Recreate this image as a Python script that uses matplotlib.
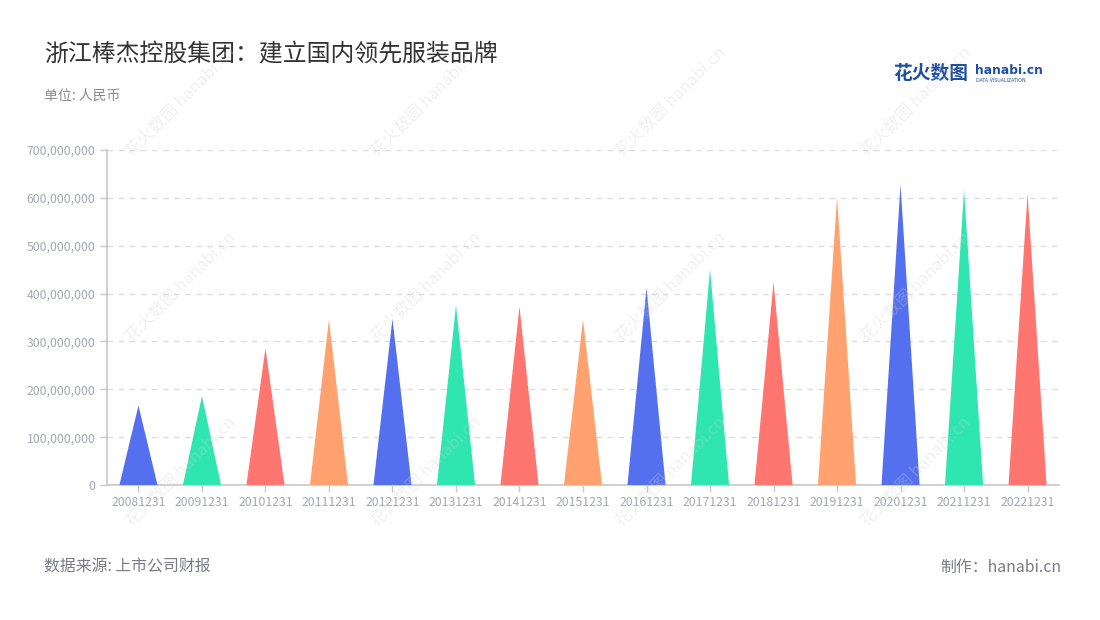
import matplotlib
matplotlib.use("Agg")
import matplotlib.pyplot as plt
from matplotlib.ticker import FuncFormatter, MultipleLocator

plt.rcParams['font.family'] = ['Noto Sans CJK SC', 'DejaVu Sans']

# data (RMB)
periods = ["20081231", "20091231", "20101231", "20111231", "20121231",
           "20131231", "20141231", "20151231", "20161231", "20171231",
           "20181231", "20191231", "20201231", "20211231", "20221231"]
values = [166e6, 186e6, 286e6, 346e6, 347e6,
          376e6, 373e6, 346e6, 412e6, 450e6,
          424e6, 602e6, 628e6, 616e6, 609e6]
palette = ["#5470ee", "#2fe6b1", "#ff7570", "#ffa26f"]

title = "浙江棒杰控股集团：建立国内领先服装品牌"
unit = "单位: 人民币"
source = "数据来源: 上市公司财报"
credit = "制作：hanabi.cn"

fig = plt.figure(figsize=(11, 6.2), dpi=100)
ax = fig.add_axes([0.097, 0.2177, 0.866, 0.5403])

half = 0.3
for i, v in enumerate(values):
    ax.fill([i - half, i, i + half], [0, v, 0],
            color=palette[i % len(palette)], lw=0, zorder=3)

ax.set_xlim(-0.5, len(periods) - 0.5)
ax.set_ylim(0, 700e6)
ax.set_xticks(range(len(periods)))
ax.set_xticklabels(periods)
ax.yaxis.set_major_locator(MultipleLocator(100e6))
ax.yaxis.set_major_formatter(FuncFormatter(lambda v, p: f"{int(v):,}"))

ax.grid(axis='y', color='#dddddd', linestyle=(0, (4, 4)), lw=1, zorder=0)
for s in ['top', 'right']:
    ax.spines[s].set_visible(False)
for s in ['left', 'bottom']:
    ax.spines[s].set_color('#c8c8c8')
    ax.spines[s].set_linewidth(1.2)
ax.tick_params(axis='both', colors='#c8c8c8', length=5, width=1,
               labelcolor='#a4a7b2', labelsize=8.8, pad=3)

# header / footer
fig.text(44 / 1100, 1 - 55 / 620, title, fontsize=17.2, color='#333333',
         ha='left', va='center')
fig.text(44 / 1100, 1 - 96 / 620, unit, fontsize=10, color='#8a8a96',
         ha='left', va='center')
fig.text(44 / 1100, 1 - 567 / 620, source, fontsize=11.4, color='#7a7a88',
         ha='left', va='center')
fig.text(1061 / 1100, 1 - 567 / 620, credit, fontsize=11.4, color='#7a7a88',
         ha='right', va='center')

# logo
fig.text(893 / 1100, 1 - 73 / 620, "花火数图", fontsize=13.5, color='#1f4fa3',
         fontweight='bold', ha='left', va='center')
fig.text(975 / 1100, 1 - 70 / 620, "hanabi.cn", fontsize=8.8, color='#1f4fa3',
         fontweight='bold', ha='left', va='center', family='DejaVu Sans')
fig.text(976 / 1100, 1 - 80 / 620, "DATA VISUALIZATION", fontsize=3.4,
         color='#1f4fa3', ha='left', va='center', family='DejaVu Sans')

# watermarks
for wx in [135, 380, 625, 870]:
    for wy in [160, 345, 530]:
        fig.text(wx / 1100, 1 - wy / 620, "花火数图 hanabi.cn", fontsize=12,
                 color='#d0d0d0', alpha=0.3, rotation=45,
                 rotation_mode='anchor', ha='left', va='bottom', zorder=10)

fig.savefig("out.png", dpi=100)
